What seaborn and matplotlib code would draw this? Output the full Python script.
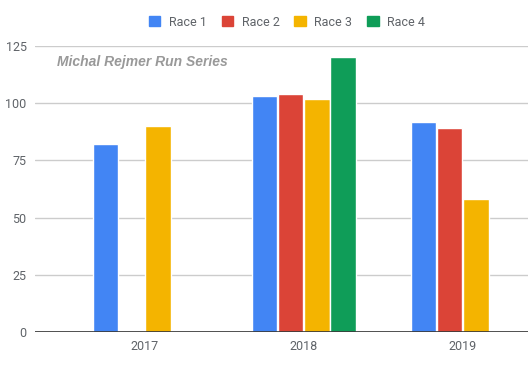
import numpy as np
import pandas as pd
import matplotlib

matplotlib.use("Agg")
import matplotlib.pyplot as plt
from matplotlib.patches import Patch
import seaborn as sns

# data
years = ["2017", "2018", "2019"]
races = ["Race 1", "Race 2", "Race 3", "Race 4"]
race1 = [82, 103, 92]
race2 = [np.nan, 104, 89]
race3 = [90, 102, 58]
race4 = [np.nan, 120, np.nan]
colors = ["#4285F4", "#DB4437", "#F4B400", "#0F9D58"]
y_ticks = [0, 25, 50, 75, 100, 125]

df = pd.DataFrame({"year": years, "Race 1": race1, "Race 2": race2,
                   "Race 3": race3, "Race 4": race4})
long = df.melt(id_vars="year", var_name="race", value_name="value")

sns.set_style("white")
plt.rcParams["font.family"] = ["Roboto", "DejaVu Sans"]

fig = plt.figure(figsize=(5.28, 3.65), dpi=100)
ax = fig.add_axes([35 / 528, 1 - 332 / 365, 1 - 35 / 528, 286 / 365])

sns.barplot(data=long, x="year", y="value", hue="race", order=years,
            hue_order=races, palette=colors, width=0.66, gap=0.03,
            saturation=1, ax=ax, legend=False, errorbar=None)

ax.set_ylim(0, 125)
ax.set_xlim(-0.69, 2.41)
ax.set_yticks(y_ticks)
ax.set_yticklabels([str(t) for t in y_ticks])
ax.grid(axis="y", color="#cccccc", linewidth=1)
ax.set_axisbelow(True)
ax.axhline(0, color="#333333", linewidth=1.2, zorder=3)
for s in ax.spines.values():
    s.set_visible(False)
ax.tick_params(axis="both", length=0, labelsize=9, labelcolor="#5f6368")
ax.tick_params(axis="y", pad=6)
ax.tick_params(axis="x", pad=6)
ax.set_xlabel("")
ax.set_ylabel("")

fig.text(57 / 528, 1 - 62 / 365, "Michal Rejmer Run Series",
         fontsize=10, fontweight="bold", fontstyle="italic",
         family=["Liberation Sans", "DejaVu Sans"],
         color="#999999", va="center", ha="left")

handles = [Patch(facecolor=c, edgecolor=c, label=r) for c, r in zip(colors, races)]
fig.legend(handles=handles, loc="center", bbox_to_anchor=(287 / 528, 1 - 22 / 365),
           ncol=4, frameon=False, fontsize=9, handlelength=0.9, handleheight=0.9,
           handletextpad=0.7, columnspacing=1.2, labelcolor="#5f6368")

fig.savefig("out.png", dpi=100)
plt.close(fig)
